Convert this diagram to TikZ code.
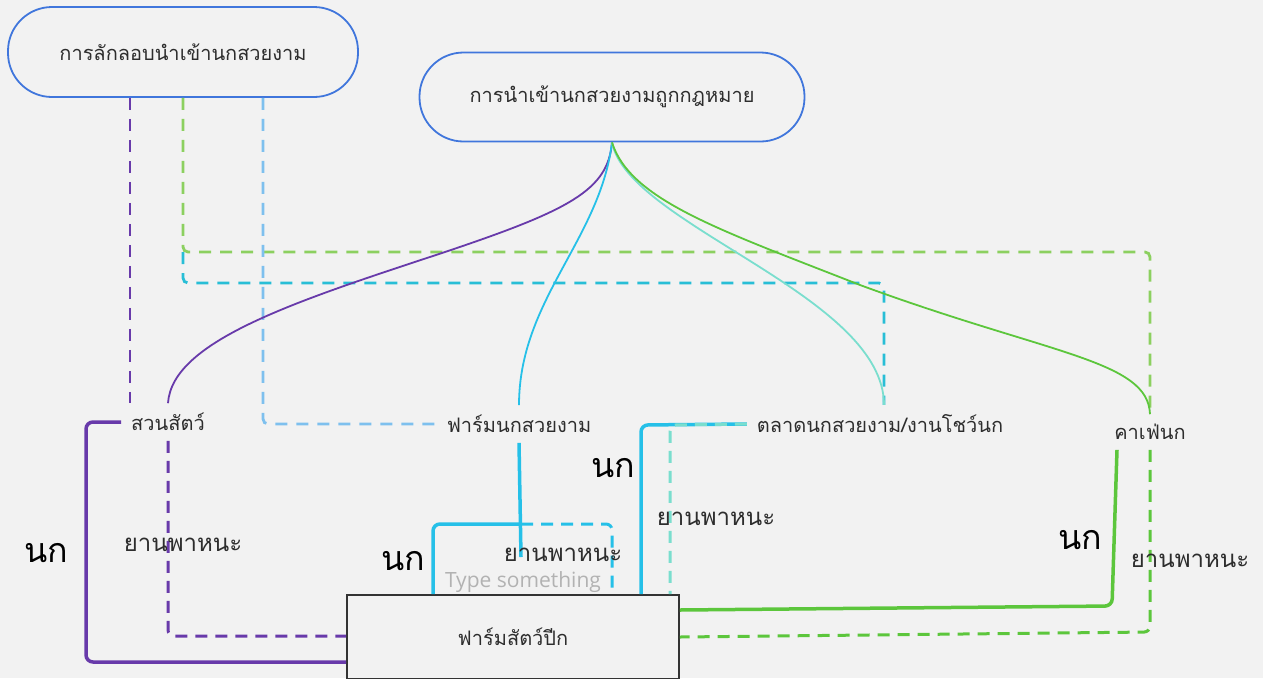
\documentclass[tikz,border=0pt]{standalone}
\usepackage{fontspec}
\newfontfamily\thaifont[Script=Thai]{Loma}
\newfontfamily\hintfont{Open Sans}
\usetikzlibrary{calc}
\definecolor{canvasgray}{RGB}{242, 242, 242}
\definecolor{pillblue}{RGB}{64, 118, 220}
\definecolor{boxgray}{RGB}{51, 51, 51}
\definecolor{inkgray}{RGB}{45, 45, 45}
\definecolor{hintgray}{RGB}{178, 178, 178}
\definecolor{zoopurple}{RGB}{104, 58, 170}
\definecolor{farmcyan}{RGB}{38, 192, 232}
\definecolor{marketteal}{RGB}{122, 222, 206}
\definecolor{cafegreen}{RGB}{92, 198, 60}
\definecolor{smuggreen}{RGB}{140, 208, 96}
\definecolor{smugblue}{RGB}{126, 192, 238}
\definecolor{smugcyan}{RGB}{40, 190, 214}

\begin{document}
\begin{tikzpicture}[
        x=1pt, y=-1pt,
        pill/.style={
            draw=pillblue,
            line width=1.8pt,
            rounded corners=44pt,
            fill=canvasgray,
            text=inkgray,
            font=\thaifont\fontsize{20}{24}\selectfont
        },
        place/.style={
            inner sep=2pt,
            outer sep=8pt,
            text=inkgray,
            font=\thaifont\fontsize{20}{24}\selectfont
        },
        bird/.style={text=black, font=\thaifont\fontsize{34}{38}\selectfont},
        vehicle/.style={inner sep=0pt, text=inkgray, font=\thaifont\fontsize{24}{28}\selectfont},
        smug/.style={line width=2.8pt, dash pattern=on 12pt off 9pt, rounded corners=5pt},
        haul/.style={line width=3.5pt, rounded corners=7pt},
        carry/.style={line width=3pt, dash pattern=on 12pt off 8pt, rounded corners=6pt},
        trade/.style={line width=1.8pt}
    ]

    \fill[canvasgray] (0,0) rectangle (1263,678);
    \useasboundingbox (0,0) rectangle (1263,678);

    \node[pill, minimum width=350pt, minimum height=90pt] (smuggle) at (183,52) {การลักลอบนำเข้านกสวยงาม};
    \node[pill, minimum width=385pt, minimum height=89pt] (legal) at (612,97) {การนำเข้านกสวยงามถูกกฎหมาย};

    \node[place] (zoo) at (168,422) {สวนสัตว์};
    \node[place] (birdfarm) at (519,424) {ฟาร์มนกสวยงาม};
    \node[place] (market) at (880,424) {ตลาดนกสวยงาม/งานโชว์นก};
    \node[place] (cafe) at (1150,432) {คาเฟ่นก};

    \coordinate (fork) at (183,252);
    \coordinate (split) at (521,524);

    \draw[smug, zoopurple] (smuggle.south -| 130,0) -- (zoo.north -| 130,0);
    \draw[smug, smuggreen] (smuggle.south -| 183,0) -- (fork) -- (1150,252) -- (cafe.north);
    \draw[smug, smugcyan] (fork) -- (183,283) -- (884,283) -- (market.north -| 884,0);
    \draw[smug, smugblue] (smuggle.south -| 263,0) -- (263,424) -- (birdfarm.west);

    \draw[trade, zoopurple] (legal.south) .. controls (608,190) and (570,210) .. (445,252)
        .. controls (300,300) and (172,340) .. (zoo.north);
    \draw[trade, farmcyan] (legal.south) .. controls (600,240) and (519,300) .. (birdfarm.north);
    \draw[trade, marketteal] (legal.south) .. controls (628,225) and (884,295) .. (market.north -| 884,0);
    \draw[trade, cafegreen] (legal.south) .. controls (630,200) and (720,230) .. (860,285)
        .. controls (1050,355) and (1148,360) .. (cafe.north);

    \node[draw=boxgray, line width=1.8pt, fill=canvasgray, minimum width=332pt, minimum height=84pt,
        text=inkgray, font=\thaifont\fontsize{20}{24}\selectfont] (poultry) at (513,637) {ฟาร์มสัตว์ปีก};

    \draw[haul, zoopurple] (zoo.west) -- (86,422) -- (86,662) -- (poultry.west |- 0,662);
    \draw[carry, zoopurple] (zoo.south) -- (168,636) -- (poultry.west |- 0,636);

    \draw[haul, farmcyan] (birdfarm.south) -- (521,557);
    \draw[haul, farmcyan] (split) -- (433,524) -- (poultry.north -| 433,0);
    \draw[carry, farmcyan] (split) -- (612,524) -- (poultry.north -| 612,0);

    \draw[haul, farmcyan] (market.west) -- (641,425) -- (poultry.north -| 641,0);
    \draw[carry, marketteal] (market.west) -- (670,425) -- (poultry.north -| 670,0);

    \draw[haul, cafegreen] (cafe.south -| 1117,0) -- (1112,606) -- (poultry.east |- 0,610);
    \draw[carry, cafegreen] (cafe.south) -- (1150,632) -- (poultry.east |- 0,637);

    \node[bird] (birdzoo) at (46,553) {นก};
    \node[bird] (birdfarmbird) at (403,561) {นก};
    \node[bird] (birdmarket) at (613,468) {นก};
    \node[bird] (birdcafe) at (1080,540) {นก};

    \node[vehicle] (carzoo) at (183,545) {ยานพาหนะ};
    \node[vehicle] (carfarm) at (563,555) {ยานพาหนะ};
    \node[vehicle] (carmarket) at (716,519) {ยานพาหนะ};
    \node[vehicle] (carcafe) at (1190,561) {ยานพาหนะ};

    \node[inner sep=0pt, text=hintgray, font=\hintfont\fontsize{21}{25}\selectfont] (hint) at (523,582) {Type something};
\end{tikzpicture}
\end{document}
